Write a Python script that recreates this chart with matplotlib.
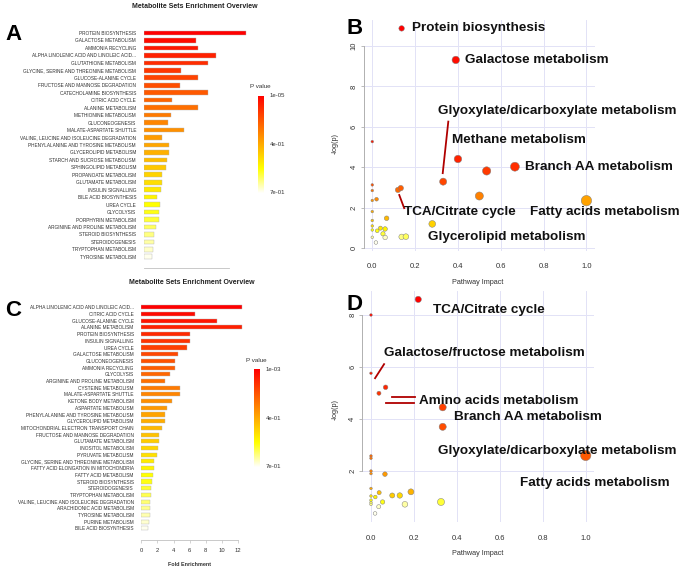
import colorsys
import numpy as np
import matplotlib.pyplot as plt

plt.rcParams['font.family'] = ['Liberation Sans', 'DejaVu Sans']

W, H = 685, 571

# A: enrichment overview, sets ordered by p value
sets_a = ['PROTEIN BIOSYNTHESIS', 'GALACTOSE METABOLISM', 'AMMONIA RECYCLING',
          'ALPHA LINOLENIC ACID AND LINOLEIC ACID...', 'GLUTATHIONE METABOLISM',
          'GLYCINE, SERINE AND THREONINE METABOLISM', 'GLUCOSE-ALANINE CYCLE',
          'FRUCTOSE AND MANNOSE DEGRADATION', 'CATECHOLAMINE BIOSYNTHESIS',
          'CITRIC ACID CYCLE', 'ALANINE METABOLISM', 'METHIONINE METABOLISM',
          'GLUCONEOGENESIS', 'MALATE-ASPARTATE SHUTTLE',
          'VALINE, LEUCINE AND ISOLEUCINE DEGRADATION',
          'PHENYLALANINE AND TYROSINE METABOLISM', 'GLYCEROLIPID METABOLISM',
          'STARCH AND SUCROSE METABOLISM', 'SPHINGOLIPID METABOLISM',
          'PROPANOATE METABOLISM', 'GLUTAMATE METABOLISM', 'INSULIN SIGNALLING',
          'BILE ACID BIOSYNTHESIS', 'UREA CYCLE', 'GLYCOLYSIS',
          'PORPHYRIN METABOLISM', 'ARGININE AND PROLINE METABOLISM',
          'STEROID BIOSYNTHESIS', 'STEROIDOGENESIS', 'TRYPTOPHAN METABOLISM',
          'TYROSINE METABOLISM']
fold_a = [12.0, 6.12, 6.35, 8.47, 7.6, 4.39, 6.35, 4.27, 7.6, 3.29, 6.35,
          3.18, 2.82, 4.78, 2.15, 2.98, 2.98, 2.71, 2.59, 2.15, 2.15, 2.0,
          1.61, 1.92, 1.85, 1.76, 1.49, 1.26, 1.18, 1.14, 1.02]
pticks_a = ['1e-05', '4e-01', '7e-01']

# C: second enrichment overview
sets_c = ['ALPHA LINOLENIC ACID AND LINOLEIC ACID...', 'CITRIC ACID CYCLE',
          'GLUCOSE-ALANINE CYCLE', 'ALANINE METABOLISM', 'PROTEIN BIOSYNTHESIS',
          'INSULIN SIGNALLING', 'UREA CYCLE', 'GALACTOSE METABOLISM',
          'GLUCONEOGENESIS', 'AMMONIA RECYCLING', 'GLYCOLYSIS',
          'ARGININE AND PROLINE METABOLISM', 'CYSTEINE METABOLISM',
          'MALATE-ASPARTATE SHUTTLE', 'KETONE BODY METABOLISM',
          'ASPARTATE METABOLISM', 'PHENYLALANINE AND TYROSINE METABOLISM',
          'GLYCEROLIPID METABOLISM', 'MITOCHONDRIAL ELECTRON TRANSPORT CHAIN',
          'FRUCTOSE AND MANNOSE DEGRADATION', 'GLUTAMATE METABOLISM',
          'INOSITOL METABOLISM', 'PYRUVATE METABOLISM',
          'GLYCINE, SERINE AND THREONINE METABOLISM',
          'FATTY ACID ELONGATION IN MITOCHONDRIA', 'FATTY ACID METABOLISM',
          'STEROID BIOSYNTHESIS', 'STEROIDOGENESIS', 'TRYPTOPHAN METABOLISM',
          'VALINE, LEUCINE AND ISOLEUCINE DEGRADATION',
          'ARACHIDONIC ACID METABOLISM', 'TYROSINE METABOLISM',
          'PURINE METABOLISM', 'BILE ACID BIOSYNTHESIS']
fold_c = [12.5, 6.6, 9.4, 12.5, 6.0, 6.0, 5.7, 4.55, 4.2, 4.2, 3.6, 2.95,
          4.75, 4.75, 3.8, 3.15, 2.95, 2.95, 2.55, 2.2, 2.2, 2.05, 1.9, 1.55,
          1.55, 1.4, 1.3, 1.25, 1.15, 1.1, 1.1, 1.05, 0.95, 0.85]
pticks_c = ['1e-03', '4e-01', '7e-01']

# B: pathway impact vs -log(p)
impact_b = [0.137, 0.39, 0.40, 0.534, 0.666, 0.331, 0.12, 0.133, 0.50, 1.0,
            0.28, 0.137, 0.157, 0, 0, 0, 0, 0, 0, 0, 0, 0,
            0.02, 0.067, 0.023, 0.038, 0.06, 0.05, 0.06, 0.017]
logp_b = [10.87, 9.31, 4.41, 3.82, 4.03, 3.29, 2.88, 2.97, 2.58, 2.35,
          1.20, 0.56, 0.57, 5.27, 3.13, 2.85, 2.36, 1.81, 1.37, 1.10, 0.90, 0.54,
          2.42, 1.48, 0.86, 0.99, 0.95, 0.71, 0.53, 0.28]
names_b = ['Protein biosynthesis', 'Galactose metabolism',
           'Glyoxylate/dicarboxylate metabolism', 'Methane metabolism',
           'Branch AA metabolism', 'TCA/Citrate cycle',
           'Fatty acids metabolism', 'Glycerolipid metabolism']

# D: pathway impact vs -log(p)
impact_d = [0.22, 0, 0, 0.068, 0.037, 0.334, 0.334, 1.0, 0, 0, 0, 0, 0.065,
            0, 0.038, 0.099, 0.134, 0.186, 0, 0.02, 0, 0, 0.054, 0, 0.036,
            0.158, 0.326, 0.019]
logp_d = [8.60, 8.0, 5.76, 5.22, 4.99, 4.45, 3.70, 2.60, 2.58, 2.49, 2.0, 1.9,
          1.88, 1.33, 1.17, 1.06, 1.06, 1.20, 1.04, 1.0, 0.88, 0.79, 0.81,
          0.72, 0.63, 0.72, 0.81, 0.37]
names_d = ['TCA/Citrate cycle', 'Galactose/fructose metabolism',
           'Amino acids metabolism', 'Branch AA metabolism',
           'Glyoxylate/dicarboxylate metabolism', 'Fatty acids metabolism']

# label placement (data coords)
pos_b = [(0.184, 10.87), (0.433, 9.31), (0.305, 6.79), (0.373, 5.35),
         (0.713, 4.0), (0.148, 1.78), (0.736, 1.78), (0.261, 0.54)]
lines_b = [((0.355, 0.329), (6.26, 3.71)), ((0.126, 0.149), (2.63, 1.98))]
pos_d = [(0.287, 8.19), (0.062, 6.53), (0.222, 4.69), (0.388, 4.07),
         (0.311, 2.78), (0.694, 1.55)]
lines_d = [((0.019, 0.061), (5.57, 6.11)), ((0.096, 0.205), (4.83, 4.83)),
           ((0.07, 0.20), (4.60, 4.60))]


def heat_colors(n):
    # same ramp as R's heat.colors
    j = n // 4
    i = n - j
    cols = [colorsys.hsv_to_rgb(h, 1, 1) for h in np.linspace(0, 1 / 6, i)]
    if j > 0:
        cols += [colorsys.hsv_to_rgb(1 / 6, s, 1)
                 for s in np.linspace(1 - 1 / (2 * j), 1 / (2 * j), j)]
    return cols


fig = plt.figure(figsize=(W / 100, H / 100), dpi=100)


def px_axes(l, t, r, b):
    return fig.add_axes([l / W, 1 - b / H, (r - l) / W, (b - t) / H])


def ftext(x, y, s, **kw):
    fig.text(x / W, 1 - y / H, s, **kw)


def bar_panel(box, names, fold, xmax, ybot, axis_max, show_ticks):
    ax = px_axes(*box)
    n = len(names)
    ax.barh(np.arange(n), fold, height=0.62, color=heat_colors(n),
            edgecolor='#b4b4b4', linewidth=0.3)
    ax.set_xlim(0, xmax)
    ax.set_ylim(ybot, -0.6)
    ax.set_yticks(np.arange(n))
    ax.set_yticklabels(names, fontsize=3.4, color='#303030')
    ax.tick_params(axis='y', length=0, pad=5.5)
    for s in ['left', 'top', 'right']:
        ax.spines[s].set_visible(False)
    ax.spines['bottom'].set_bounds(0, axis_max)
    ax.spines['bottom'].set_color('#c0c0c0')
    ax.spines['bottom'].set_linewidth(0.6)
    ax.set_xticks(np.arange(0, axis_max + 1, 2))
    if show_ticks:
        ax.tick_params(axis='x', length=2.5, width=0.5, color='#c0c0c0',
                       labelsize=4.2, labelcolor='#333333', pad=3)
    else:
        ax.tick_params(axis='x', length=0, labelbottom=False)
    return ax


def pvalue_bar(box, labels, title_x, title_y):
    cax = px_axes(*box)
    grad = np.array(heat_colors(120))[:, None, :]
    cax.imshow(grad, aspect='auto', extent=[0, 1, 1, 0])
    cax.set_axis_off()
    l, t, r, b = box
    ftext(title_x, title_y, 'P value', fontsize=4.5, ha='center', va='center',
          color='#333333')
    for lab, y in zip(labels, [t, (t + b) / 2, b]):
        ftext(r + 6, y, lab, fontsize=4.3, ha='left', va='center',
              color='#333333')


def impact_panel(box, xlim, ylim, yticks, impact, logp, names, pos, lines):
    ax = px_axes(*box)
    impact = np.array(impact)
    logp = np.array(logp)
    order = np.argsort(-logp, kind='stable')
    heat = heat_colors(len(logp))
    cols = [None] * len(logp)
    for k, idx in enumerate(order):
        cols[idx] = heat[k]
    radius = 1.3 + 3.9 * np.sqrt(impact)
    ax.scatter(impact, logp, s=(2 * radius * 0.72) ** 2, c=cols,
               edgecolors='#808080', linewidths=0.35, clip_on=False, zorder=3)
    ax.set_xlim(*xlim)
    ax.set_ylim(*ylim)
    xt = np.arange(0, 1.01, 0.2)
    for v in xt:
        ax.axvline(v, color='#e2e2f6', lw=0.7, zorder=0)
    for v in yticks:
        ax.axhline(v, color='#e2e2f6', lw=0.7, zorder=0)
    for s in ['top', 'right', 'bottom']:
        ax.spines[s].set_visible(False)
    ax.spines['left'].set_bounds(yticks[0], yticks[-1])
    ax.spines['left'].set_color('#b0b0b0')
    ax.spines['left'].set_linewidth(0.7)
    ax.set_xticks(xt)
    ax.set_xticklabels([f'{v:.1f}' for v in xt])
    ax.set_yticks(yticks)
    ax.tick_params(axis='x', length=0, pad=9, labelsize=5.5,
                   labelcolor='#333333')
    ax.tick_params(axis='y', length=2.5, width=0.6, color='#b0b0b0',
                   labelsize=5.5, labelcolor='#333333', labelrotation=90,
                   pad=2)
    for lab in ax.get_yticklabels():
        lab.set_va('center')
    for (xs, ys) in lines:
        ax.plot(xs, ys, color='#b00000', lw=1.3, clip_on=False, zorder=4)
    for name, (x, y) in zip(names, pos):
        ax.text(x, y, name, fontsize=9.7, fontweight='bold', ha='left',
                va='center', color='#111111', clip_on=False, zorder=5)
    return ax


# panel A
bar_panel((143.7, 28.5, 250.0, 268.0), sets_a, fold_a, 12.5, 31.5, 10, False)
ftext(195, 7, 'Metabolite Sets Enrichment Overview', fontsize=5.0,
      fontweight='bold', ha='center', va='center', color='#222222')
pvalue_bar((258, 95.7, 264, 193), pticks_a, 260.7, 86)

# panel C
axc = bar_panel((141.3, 303.3, 246.1, 540.0), sets_c, fold_c, 13, 34.73, 12, True)
ftext(191.5, 283, 'Metabolite Sets Enrichment Overview', fontsize=5.0,
      fontweight='bold', ha='center', va='center', color='#222222')
ftext(190, 564, 'Fold Enrichment', fontsize=3.9, fontweight='bold',
      ha='center', va='center', color='#333333')
pvalue_bar((254, 369.3, 260, 466.7), pticks_c, 256.7, 360)

# panel B
impact_panel((363.7, 19.9, 595.0, 251.0), (-0.04, 1.04), (-0.14, 11.29),
             [0, 2, 4, 6, 8, 10], impact_b, logp_b, names_b, pos_b, lines_b)
ftext(478, 283, 'Pathway Impact', fontsize=5.2, ha='center', va='center',
      color='#333333')
ftext(335, 143, '-log(p)', fontsize=5.2, rotation=90, ha='center',
      va='center', color='#333333')

# panel D
impact_panel((362.4, 290.8, 594.3, 522.0), (-0.04, 1.04), (0.04, 8.93),
             [2, 4, 6, 8], impact_d, logp_d, names_d, pos_d, lines_d)
ftext(478, 553.3, 'Pathway Impact', fontsize=5.2, ha='center', va='center',
      color='#333333')
ftext(335, 410, '-log(p)', fontsize=5.2, rotation=90, ha='center',
      va='center', color='#333333')

# panel letters
for letter, x, y in [('A', 13.5, 35), ('B', 354.5, 29), ('C', 13, 310),
                     ('D', 354.5, 305)]:
    ftext(x, y, letter, fontsize=16, fontweight='bold', ha='center',
          va='center', color='black')

fig.savefig('out.png', dpi=100)
